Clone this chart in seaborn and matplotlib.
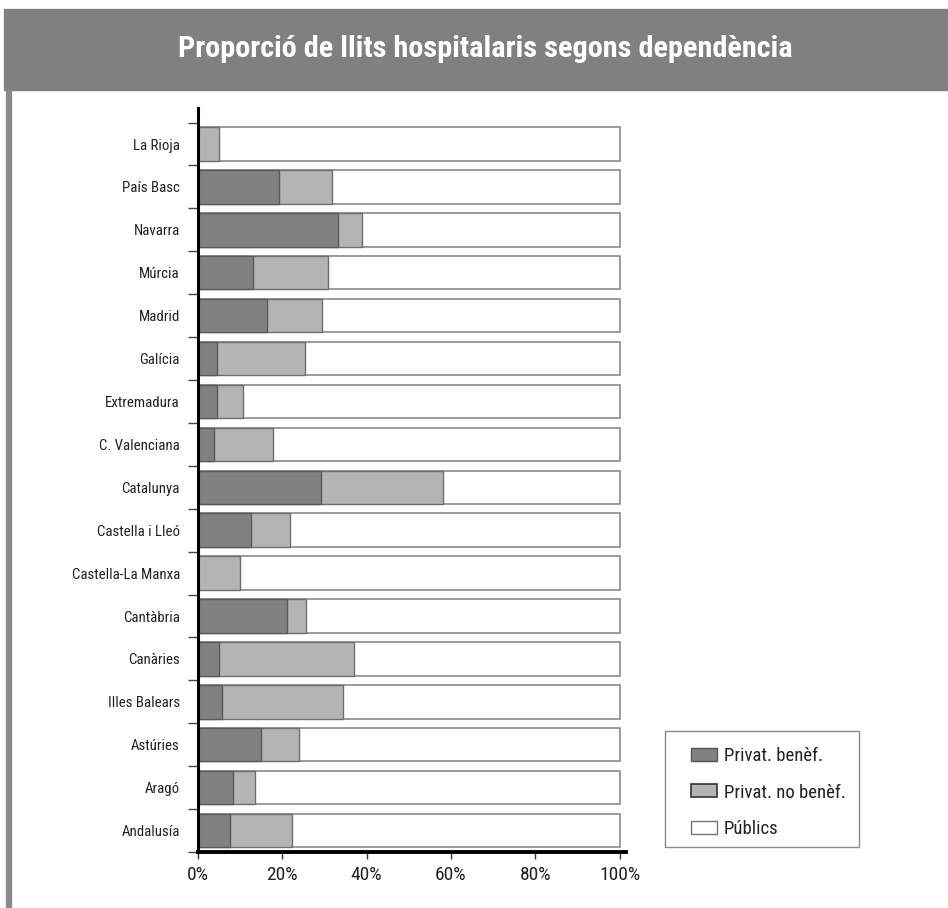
import matplotlib
matplotlib.use("Agg")
import matplotlib.pyplot as plt
from matplotlib.patches import Rectangle, Patch
from matplotlib.ticker import FixedLocator, PercentFormatter
import seaborn as sns
import pandas as pd

# Regions, listed top to bottom
regions = ["La Rioja", "País Basc", "Navarra", "Múrcia", "Madrid", "Galícia",
           "Extremadura", "C. Valenciana", "Catalunya", "Castella i Lleó",
           "Castella-La Manxa", "Cantàbria", "Canàries", "Illes Balears",
           "Astúries", "Aragó", "Andalusía"]
# Share of hospital beds (%) by ownership
privat_benef = [0.0, 19.1, 33.1, 13.0, 16.3, 4.4, 4.4, 3.9, 29.1, 12.5,
                0.0, 21.0, 4.9, 5.8, 14.9, 8.2, 7.7]
privat_no_benef = [4.9, 12.7, 5.7, 17.9, 13.2, 20.9, 6.2, 13.8, 29.1, 9.3,
                   10.0, 4.6, 32.1, 28.5, 9.0, 5.2, 14.7]
publics = [round(100 - a - b, 1) for a, b in zip(privat_benef, privat_no_benef)]
series_labels = ["Privat. benèf.", "Privat. no benèf.", "Públics"]

df = pd.DataFrame({"region": regions, "benef": privat_benef,
                   "nobenef": privat_no_benef, "publics": publics})
df["cum_nobenef"] = df["benef"] + df["nobenef"]
df["cum_total"] = df["cum_nobenef"] + df["publics"]

sns.set_theme(style="white")
narrow = ["Roboto Condensed", "DejaVu Sans"]
plt.rcParams["font.family"] = narrow

W, H = 948, 908
fig = plt.figure(figsize=(W / 100, H / 100), dpi=100)
fig.patch.set_facecolor("white")

# Header band and left rule
fig.patches.append(Rectangle((4 / W, 1 - 90 / H), (W - 4) / W, 81 / H,
                             transform=fig.transFigure, color="#808080", zorder=0))
fig.patches.append(Rectangle((6 / W, 0), 5 / W, 1 - 90 / H,
                             transform=fig.transFigure, color="#8a8a8a", zorder=0))
fig.text(485 / W, 1 - 49 / H, "Proporció de llits hospitalaris segons dependència",
         color="white", fontsize=21.8, fontweight="bold", ha="center", va="center",
         family=narrow)

ax = fig.add_axes([198 / W, 1 - 852 / H, 428 / W, (852 - 108) / H])

dark, light = "#818181", "#b4b4b4"
bw = 0.78
sns.barplot(data=df, x="cum_total", y="region", order=regions, color="white",
            edgecolor="#8a8a8a", linewidth=1.2, width=bw, saturation=1, ax=ax)
sns.barplot(data=df, x="cum_nobenef", y="region", order=regions, color=light,
            edgecolor="#6e6e6e", linewidth=1.0, width=bw, saturation=1, ax=ax)
sns.barplot(data=df, x="benef", y="region", order=regions, color=dark,
            edgecolor="#5a5a5a", linewidth=1.0, width=bw, saturation=1, ax=ax)

ax.set_xlim(0, 101.5)
ax.set_ylim(16.5, -0.84)
ax.set_xlabel("")
ax.set_ylabel("")
ax.set_xticks([0, 20, 40, 60, 80, 100])
ax.xaxis.set_major_formatter(PercentFormatter(decimals=0))
ax.yaxis.set_minor_locator(FixedLocator([k + 0.5 for k in range(-1, 17)]))

for s in ["top", "right"]:
    ax.spines[s].set_visible(False)
ax.spines["left"].set_color("black")
ax.spines["left"].set_linewidth(2.2)
ax.spines["bottom"].set_color("black")
ax.spines["bottom"].set_linewidth(2.8)

ax.tick_params(axis="y", which="major", length=0, pad=13, labelsize=10.7,
               labelcolor="#222222")
ax.tick_params(axis="y", which="minor", left=True, length=7, width=1,
               color="#444444", direction="out")
ax.tick_params(axis="x", which="major", bottom=True, length=5, width=1,
               color="#333333", direction="out", labelsize=14, pad=5,
               labelcolor="#222222")
for lab in ax.get_yticklabels() + ax.get_xticklabels():
    lab.set_family(narrow)

# Legend box
fig.patches.append(Rectangle((665 / W, 1 - 847 / H), 194 / W, 116 / H,
                             transform=fig.transFigure, facecolor="white",
                             edgecolor="#8a8a8a", linewidth=1.0, zorder=1))
handles = [Patch(facecolor=dark, edgecolor="#555555", linewidth=1.0),
           Patch(facecolor=light, edgecolor="#333333", linewidth=1.2),
           Patch(facecolor="white", edgecolor="#777777", linewidth=1.0)]
leg = fig.legend(handles, series_labels, loc="upper left",
                 bbox_to_anchor=(678 / W, 1 - 734 / H), bbox_transform=fig.transFigure,
                 frameon=False, handlelength=1.4, handleheight=0.68,
                 handletextpad=0.35, labelspacing=0.98, borderpad=0.2,
                 prop={"family": narrow, "size": 13.5})
for t in leg.get_texts():
    t.set_color("#222222")

fig.savefig("out.png", dpi=100, facecolor="white")
